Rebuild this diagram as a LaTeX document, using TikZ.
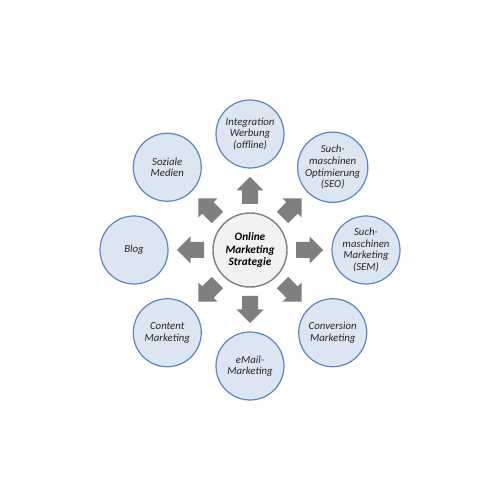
\documentclass[tikz,border=0pt]{standalone}
\usepackage{fontspec}
\setmainfont{Carlito}
\usetikzlibrary{calc}
\definecolor{ringblue}{HTML}{5B84C0}
\definecolor{fillblue}{HTML}{DCE6F2}
\definecolor{arrowgray}{HTML}{7F7F7F}
\definecolor{centerfill}{HTML}{F2F2F2}
\definecolor{textgray}{HTML}{262626}
\tikzset{
  outer/.style={circle, draw=ringblue, fill=fillblue, line width=1.2pt,
    minimum size=68pt, inner sep=0pt, align=center, text=textgray,
    font=\itshape\fontsize{10.8}{11.6}\selectfont},
  core/.style={circle, draw=arrowgray, fill=centerfill, line width=1.4pt,
    minimum size=74pt, inner sep=0pt, align=center, text=black,
    font=\bfseries\itshape\fontsize{11.3}{12.8}\selectfont},
  blockarrow/.style={fill=arrowgray}
}
\begin{document}
\begin{tikzpicture}[x=1pt,y=1pt]
\useasboundingbox[fill=white] (0,0) rectangle (500,500);
\coordinate (c) at (250,250);
\node[core] (center) at (c) {Online\\Marketing\\Strategie};
\node[outer] (integ) at ($(c)+(90:116)$) {Integration\\Werbung\\(offline)};
\node[outer] (seo) at ($(c)+(45:117)$) {Such-\\maschinen\\Optimierung\\(SEO)};
\node[outer] (sem) at ($(c)+(0:116)$) {Such-\\maschinen\\Marketing\\(SEM)};
\node[outer] (conv) at ($(c)+(-45:117)$) {Conversion\\Marketing};
\node[outer] (email) at ($(c)+(-90:116)$) {eMail-\\Marketing};
\node[outer] (content) at ($(c)+(-135:117)$) {Content\\Marketing};
\node[outer] (blog) at ($(c)+(180:116)$) {Blog};
\node[outer] (sozial) at ($(c)+(135:117)$) {Soziale\\Medien};
\foreach \a in {90,45,0,-45,-90,-135,180,135}{
  \begin{scope}[shift={(c)}, rotate=\a]
    \fill[blockarrow] (46,-8) -- (59.5,-8) -- (59.5,-13.5) -- (73,0)
      -- (59.5,13.5) -- (59.5,8) -- (46,8) -- cycle;
  \end{scope}
}
\end{tikzpicture}
\end{document}
